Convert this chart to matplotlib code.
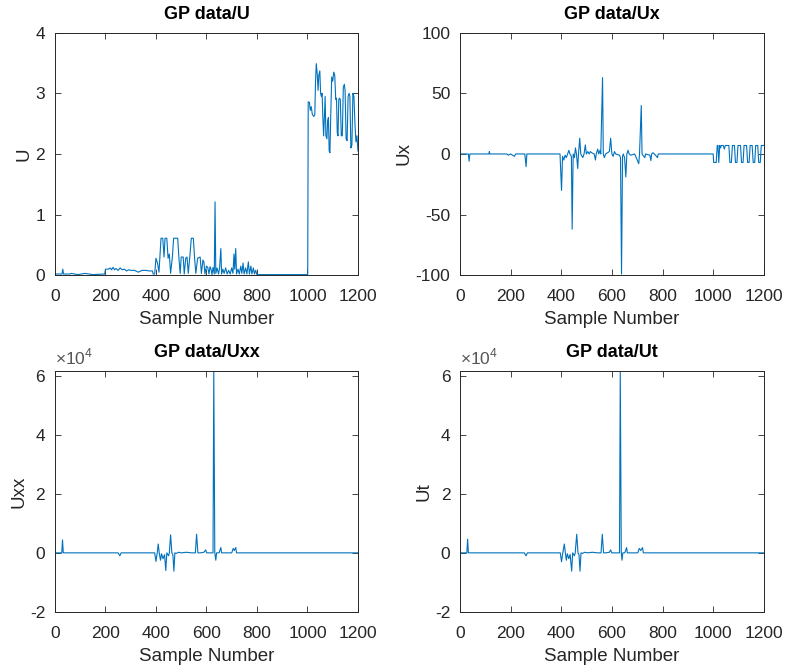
import matplotlib
matplotlib.use('Agg')
from matplotlib import pyplot as plt
from matplotlib.ticker import FuncFormatter

plt.rcParams['font.family'] = ['Liberation Sans', 'DejaVu Sans']
plt.rcParams['mathtext.fontset'] = 'custom'
plt.rcParams['mathtext.rm'] = 'Liberation Sans'
plt.rcParams['axes.unicode_minus'] = False

# GP data, stored as (sample number, value) vertices
u_x = [1, 28, 31, 34, 60, 65, 90, 120, 150, 197,
       200, 212, 218, 224, 230, 236, 242, 250, 258, 266, 275, 284, 292, 300, 315, 330, 345, 360, 375, 386, 389,
       395, 400, 406, 412, 420, 427, 432, 436, 443, 448, 453, 458, 465, 470, 486, 491, 496, 500, 508, 512,
       518, 523, 528, 535, 540, 548, 553, 558, 565, 575, 580, 586, 590, 594, 600, 605, 610, 614, 618, 622,
       626, 631, 634, 637, 642, 648, 652, 657, 660, 665, 670, 676, 682, 688, 694, 700, 705, 709, 712, 716,
       719, 725, 730, 736, 740, 745, 749, 755, 760, 766, 770, 776, 780, 786, 790, 795, 800, 1000,
       1001, 1003, 1008, 1011, 1015, 1019, 1024, 1029, 1032, 1035, 1039, 1042, 1045, 1049, 1052, 1055, 1058,
       1061, 1064, 1067, 1070, 1073, 1077, 1080, 1083, 1086, 1089, 1092, 1096, 1100, 1104, 1108, 1112, 1115,
       1118, 1121, 1124, 1127, 1130, 1134, 1138, 1142, 1146, 1149, 1153, 1157, 1161, 1165, 1168, 1172, 1176,
       1180, 1184, 1188, 1192, 1196, 1200]
u_y = [0.02, 0.02, 0.1, 0.02, 0.02, 0.03, 0.01, 0.03, 0.01, 0.02,
       0.1, 0.1, 0.12, 0.09, 0.13, 0.09, 0.11, 0.08, 0.12, 0.09, 0.1, 0.07, 0.09, 0.08, 0.08, 0.05, 0.08, 0.08, 0.07, 0.07, 0.02,
       0.02, 0.28, 0.2, 0.05, 0.61, 0.61, 0.3, 0.61, 0.61, 0.28, 0.35, 0.03, 0.3, 0.61, 0.61, 0.28, 0.03, 0.3, 0.3, 0.02,
       0.28, 0.3, 0.03, 0.35, 0.61, 0.61, 0.28, 0.03, 0.28, 0.3, 0.03, 0.25, 0.22, 0.02, 0.15, 0.13, 0.02, 0.14, 0.1, 0.01,
       0.13, 0.02, 1.21, 0.03, 0.12, 0.02, 0.12, 0.44, 0.02, 0.1, 0.03, 0.12, 0.02, 0.08, 0.02, 0.12, 0.03, 0.35, 0.1, 0.44,
       0.02, 0.1, 0.02, 0.15, 0.03, 0.2, 0.02, 0.12, 0.02, 0.22, 0.02, 0.15, 0.02, 0.12, 0.02, 0.08, 0.01, 0.01,
       0.01, 2.86, 2.85, 2.72, 2.78, 2.66, 2.62, 2.64, 3.2, 3.49, 3.3, 3.05, 3.3, 3.37, 3.0, 2.95, 3.0,
       2.6, 2.3, 2.6, 2.95, 2.3, 2.25, 2.55, 2.6, 2.05, 2.02, 2.6, 3.27, 3.2, 3.35, 3.3, 2.9, 2.92,
       2.35, 2.3, 2.9, 2.92, 2.9, 2.3, 2.3, 3.1, 3.15, 3.05, 2.25, 2.22, 2.95, 3.0, 2.95, 2.1, 2.15,
       3.0, 2.95, 2.5, 2.2, 2.3, 2.05]

ux_x = [1, 33, 36, 39, 114, 116, 118, 185, 190, 200, 215, 220, 256, 261, 264,
        395, 401, 405, 410, 415, 420, 425, 430, 434, 440, 443, 447, 452, 456, 460, 465, 468, 473, 477,
        485, 490, 495, 499, 505, 510, 515, 520, 530, 535, 538, 544, 548, 553, 556, 563, 566, 570, 575,
        590, 595, 600, 605, 610, 615, 630, 634, 638, 642, 645, 650, 655, 659, 664, 668, 675, 690,
        706, 709, 716, 719, 730, 733, 750, 754, 757, 762, 768, 780, 783, 800, 1000,
        1002, 1012, 1016, 1019, 1022, 1026, 1029, 1032, 1040, 1044, 1048, 1062, 1066, 1072, 1076, 1084,
        1088, 1094, 1098, 1108, 1112, 1118, 1122, 1132, 1136, 1142, 1146, 1154, 1158, 1164, 1168, 1176,
        1180, 1186, 1190, 1200]
ux_y = [0, 0, -6, 0, 0, 2, 0, 0, -1, 0, -2, 0, 0, -10.5, 0,
        0, -30, -2, -5, -1, -3, 0, 3, 0, -2, -62, 0, -3, 5, 0, -12, 0, 13, 0,
        -3, 0, 7.5, 0, 2, 0, 2, 1, 0, -5, 0, 4, 0, 3, 0, 63, 0, -3, 0,
        2, 13, 0, -2, 2, 0, -1, -3, -99, -2, 0, -3, -19, 0, 3, 0, -1, 0,
        -8, 0, 40, 0, -3, 0, -1, -5.5, 0, 1, 0, -3, 0, 0, 0,
        -7, -7, 7, 7, -7, 7, 5, 7, 7, 4, 7, 7, -7, -7, 7, 7,
        -7, -7, 7, 7, -7, -7, 7, 7, -7, -7, 7, 7, -7, -7, 7, 7,
        -7, -7, 7, 7]

uxx_x = [1, 27, 30, 33, 250, 257, 262, 395, 400, 405, 409, 413, 418, 422, 428, 434, 439, 443,
         450, 453, 458, 463, 467, 471, 475, 480, 490, 500, 520, 540, 556, 561, 566, 575, 590, 597,
         601, 626, 629, 633, 637, 640, 650, 657, 660, 700, 706, 710, 716, 719, 1200]
uxx_y = [0, 0, 4400, 0, 0, -1000, 0, 0, -2900, 0, 3000, 0, -2500, -300, -2000, -600, -6000, 0,
         -1000, 0, 6100, 0, -600, -6200, 0, -200, 200, 0, 200, 0, 0, 6300, 0, 0, 200, 1000,
         0, 0, 61700, 0, -2500, 0, 0, 1800, 0, 0, 1500, 800, 1800, 0, 0]

ut_x = [1, 27, 30, 33, 254, 261, 266, 396, 401, 406, 412, 416, 420, 424, 430, 435, 441, 445,
        452, 455, 461, 466, 470, 474, 478, 483, 493, 503, 523, 543, 557, 562, 567, 576, 590, 595,
        599, 630, 633, 637, 640, 643, 651, 658, 661, 702, 708, 714, 721, 724, 1200]
ut_y = [0, 0, 4600, 0, 0, -1000, 0, 0, -3000, 0, 3000, 0, -2500, -300, -2000, -500, -6200, 0,
        -1000, 0, 6300, 0, -600, -6200, 0, -200, 200, 0, 200, 0, 0, 6300, 0, 0, 200, 1000,
        0, 0, 61700, 0, -2500, 0, 0, 1800, 0, 0, 1500, 800, 1800, 0, 0]

line_color = '#0072BD'
dark = '#262626'

fig = plt.figure(figsize=(7.85, 6.68), dpi=100)
fig.patch.set_facecolor('white')

positions = [[0.070, 0.588, 0.386, 0.363],
             [0.586, 0.588, 0.387, 0.363],
             [0.070, 0.084, 0.386, 0.361],
             [0.586, 0.084, 0.387, 0.361]]
panels = [('GP data/U', 'U', u_x, u_y),
          ('GP data/Ux', 'Ux', ux_x, ux_y),
          ('GP data/Uxx', 'Uxx', uxx_x, uxx_y),
          ('GP data/Ut', 'Ut', ut_x, ut_y)]

for i, (title, ylab, xs, ys) in enumerate(panels):
    ax = fig.add_axes(positions[i])
    ax.plot(xs, ys, color=line_color, lw=0.8)
    ax.set_xlim(0, 1200)
    ax.set_xticks(range(0, 1201, 200))
    ax.set_title(title, fontsize=13, fontweight='bold', color='black', pad=10)
    ax.set_xlabel('Sample Number', fontsize=13.5, color=dark, labelpad=5)
    ax.set_ylabel(ylab, fontsize=13.5, color=dark, labelpad=2)
    ax.tick_params(direction='in', top=True, right=True, length=4, width=0.6,
                   labelsize=12.5, colors=dark)
    ax.tick_params(axis='x', pad=10)
    ax.tick_params(axis='y', pad=7)
    for sp in ax.spines.values():
        sp.set_color(dark)
        sp.set_linewidth(0.7)
    if i == 0:
        ax.set_ylim(0, 4)
        ax.set_yticks(range(0, 5))
    elif i == 1:
        ax.set_ylim(-100, 100)
        ax.set_yticks(range(-100, 101, 50))
    else:
        ax.set_ylim(-20000, max(ys))
        ax.set_yticks(range(-20000, 60001, 20000))
        ax.yaxis.set_major_formatter(FuncFormatter(lambda v, p: '%g' % (v / 1e4)))
        ax.text(0, 1.015, r'$\times10^{4}$', transform=ax.transAxes, fontsize=12.5,
                color='#555555', ha='left', va='bottom')

fig.savefig('out.png', dpi=100, facecolor='white')
